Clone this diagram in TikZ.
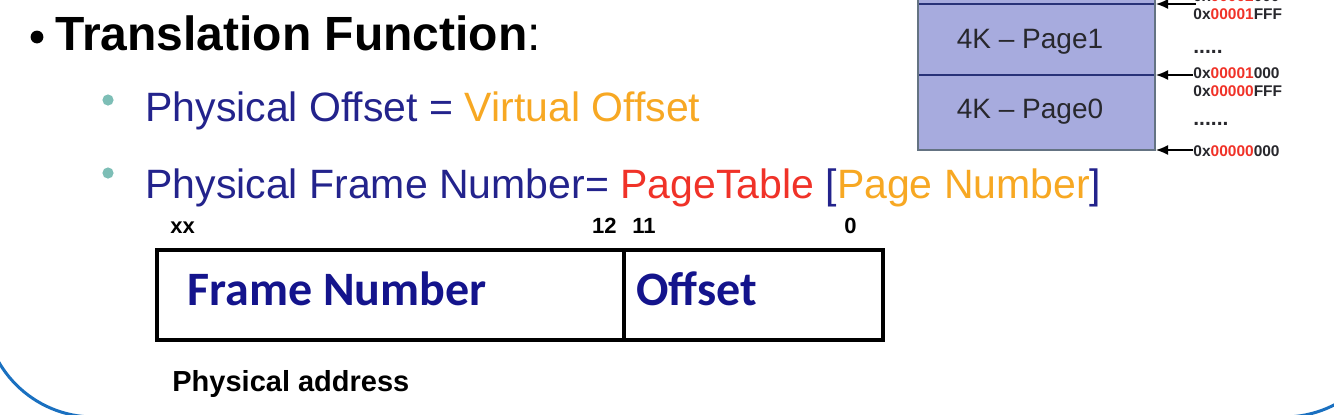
\documentclass[tikz,border=0pt]{standalone}
\usepackage{fontspec}
\setmainfont{Liberation Sans}
\newfontfamily\calibri{Carlito}
\usetikzlibrary{arrows.meta}
\definecolor{navy}{RGB}{35,35,140}
\definecolor{deepnavy}{RGB}{20,20,140}
\definecolor{amber}{RGB}{247,168,35}
\definecolor{tabred}{RGB}{240,50,40}
\definecolor{teal}{RGB}{125,190,182}
\definecolor{pagefill}{RGB}{167,171,222}
\definecolor{pageedge}{RGB}{100,115,130}
\definecolor{pageline}{RGB}{40,50,120}
\definecolor{inkgray}{RGB}{40,40,45}
\definecolor{framblue}{RGB}{26,112,192}
\newcommand{\addr}[2]{\textcolor{inkgray}{0x}\textcolor{tabred}{#1}\textcolor{inkgray}{#2}}
\begin{document}
\begin{tikzpicture}[x=0.5pt,y=-0.5pt,
	bullettext/.style={anchor=base west,inner sep=0pt,text=navy,font=\fontsize{20.5}{24}\selectfont},
	bitlabel/.style={inner sep=0pt,font=\fontsize{11}{13}\selectfont\bfseries},
	fieldtext/.style={anchor=base west,inner sep=0pt,text=deepnavy,font=\calibri\fontsize{24}{28}\selectfont\bfseries},
	pagetext/.style={anchor=base,inner sep=0pt,text=inkgray,font=\fontsize{14}{16}\selectfont},
	addrlabel/.style={anchor=west,inner sep=0pt,font=\fontsize{7.75}{9}\selectfont\bfseries},
	dotlabel/.style={anchor=base west,inner sep=0pt,text=inkgray,font=\fontsize{10.5}{12}\selectfont\bfseries},
	pointer/.style={line width=0.7pt,-{Latex[length=6pt,width=5pt]}}]
			\useasboundingbox (0,0) rectangle (1334,414);
			\clip (0,0) rectangle (1334,414);

			% Slide frame
			\draw[framblue,line width=1.5pt,rounded corners=55pt] (-16,-200) rectangle (1394,417);

			% Title
			\fill (37,37) circle (3.2pt);
			\node[anchor=base west,inner sep=0pt,font=\fontsize{24}{28}\selectfont] (title) at (55,50) {\textbf{Translation Function}:};

			% Bullets
			\fill[teal] (108,100) circle (2.8pt);
			\node[bullettext] (offsetrule) at (145,121) {Physical Offset = \textcolor{amber}{Virtual Offset}};
			\fill[teal] (108,173) circle (2.8pt);
			\node[bullettext] (framerule) at (145,198) {Physical Frame Number= \textcolor{tabred}{PageTable} [\textcolor{amber}{Page Number}]};

			% Bit positions
			\node[bitlabel,anchor=base west] (bitxx) at (170,233) {xx};
			\node[bitlabel,anchor=base east] (bit12) at (617,233) {12};
			\node[bitlabel,anchor=base west] (bit11) at (632,233) {11};
			\node[bitlabel,anchor=base east] (bit0) at (857,233) {0};

			% Physical address fields
			\draw[line width=2pt] (157,250) rectangle (883,340);
			\draw[line width=2pt] (624,250) -- (624,340);
			\node[fieldtext] (frame) at (187,305) {Frame Number};
			\node[fieldtext] (offset) at (636,305) {Offset};
			\node[anchor=base west,inner sep=0pt,font=\fontsize{14.5}{17}\selectfont\bfseries] (physaddr) at (172,391) {Physical address};

			% Memory pages
			\filldraw[fill=pagefill,draw=pageedge,line width=1pt] (918,-20) rectangle (1155,150);
			\draw[pageline,line width=1pt] (919,4) -- (1154,4);
			\draw[pageline,line width=1pt] (919,75) -- (1154,75);
			\node[pagetext] (page1) at (1030,48) {4K -- Page1};
			\node[pagetext] (page0) at (1030,118) {4K -- Page0};

			% Addresses
			\node[addrlabel] (a2000) at (1193,-4) {\addr{00002}{000}};
			\node[addrlabel] (a1fff) at (1193,14) {\addr{00001}{FFF}};
			\node[dotlabel] (dots1) at (1193,53) {.....};
			\node[addrlabel] (a1000) at (1193,73) {\addr{00001}{000}};
			\node[addrlabel] (a0fff) at (1193,91) {\addr{00000}{FFF}};
			\node[dotlabel] (dots0) at (1193,125) {......};
			\node[addrlabel] (a0000) at (1193,151) {\addr{00000}{000}};

			% Arrows
			\coordinate (top) at (1196,4);
			\coordinate (edgetop) at (1156,4);
			\coordinate (edgemid) at (1156,75);
			\coordinate (edgelow) at (1156,150);
			\draw[pointer] (top) -- (edgetop);
			\draw[pointer] (a1000.west |- edgemid) -- (edgemid);
			\draw[pointer] (a0000.west |- edgelow) -- (edgelow);
		\end{tikzpicture}
\end{document}
